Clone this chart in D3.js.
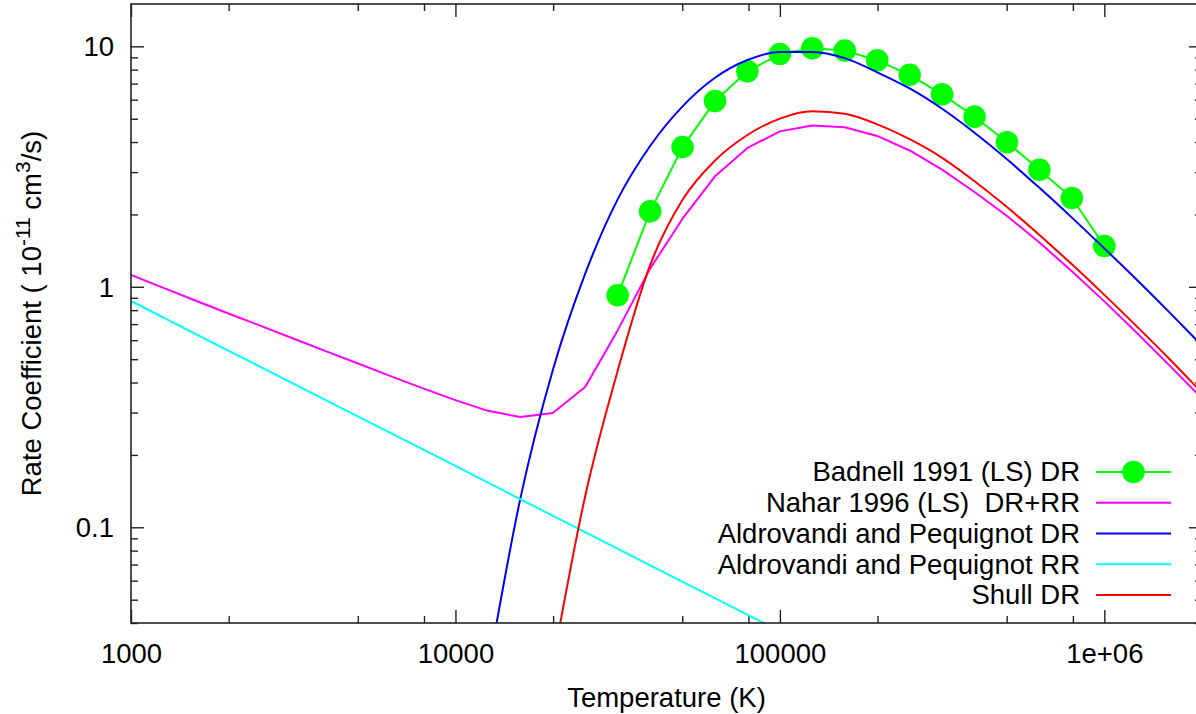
<!DOCTYPE html>
<html>
<head>
<meta charset="utf-8">
<script src="https://cdn.jsdelivr.net/npm/d3@7"></script>
<style>
  html, body { margin: 0; padding: 0; background: #fff; }
  svg { display: block; }
  text { font-family: "Liberation Sans", Arial, Helvetica, sans-serif; fill: #000; }
</style>
</head>
<body>
<svg id="chart" width="1196" height="714"></svg>
<script>
// ---------------- data ----------------
const badnellT = [31623, 39811, 50119, 63096, 79433, 100000, 125893, 158489, 199526, 251189, 316228, 398107, 501187, 630957, 794328, 1000000];
const badnellV = [0.922, 2.06, 3.81, 5.92, 7.87, 9.29, 9.81, 9.60, 8.75, 7.61, 6.32, 5.10, 3.99, 3.07, 2.34, 1.478];

const naharT = [1000, 1259, 1585, 1995, 2512, 3162, 3981, 5012, 6310, 7943, 10000, 12589, 15849, 19953, 25119, 31623, 39811, 50119, 63096, 79433, 100000, 125893, 158489, 199526, 251189, 316228, 398107, 501187, 630957, 794328, 1000000, 1258925, 1584893, 1995262];
const naharV = [1.12, 0.99, 0.875, 0.775, 0.688, 0.61, 0.54, 0.48, 0.425, 0.378, 0.338, 0.305, 0.2875, 0.299, 0.383, 0.659, 1.19, 1.92, 2.88, 3.78, 4.43, 4.69, 4.61, 4.24, 3.69, 3.07, 2.48, 1.97, 1.53, 1.16, 0.87, 0.644, 0.4725, 0.3445];

const apDrT = [12589, 15849, 19953, 25119, 31623, 39811, 50119, 63096, 79433, 100000, 125893, 158489, 199526, 251189, 316228, 398107, 501187, 630957, 794328, 1000000, 1258925, 1584893, 1995262];
const apDrV = [0.025, 0.1316, 0.45, 1.135, 2.31, 3.85, 5.63, 7.40, 8.77, 9.47, 9.48, 8.93, 7.80, 6.68, 5.50, 4.37, 3.39, 2.58, 1.94, 1.445, 1.07, 0.785, 0.571];

const apRrT = [1000, 2000, 5000, 10000, 20000, 50000, 100000];
const apRrV = [0.873, 0.542, 0.289, 0.18, 0.1115, 0.0595, 0.037];

const shullT = [19953, 25119, 31623, 39811, 50119, 63096, 79433, 100000, 125893, 158489, 199526, 251189, 316228, 398107, 501187, 630957, 794328, 1000000, 1258925, 1584893, 1995262];
const shullV = [0.027, 0.135, 0.447, 1.23, 2.30, 3.35, 4.28, 5.005, 5.37, 5.24, 4.74, 4.11, 3.44, 2.75, 2.146, 1.643, 1.24, 0.926, 0.685, 0.502, 0.3635];

const legendLabels = ["Badnell 1991 (LS) DR", "Nahar 1996 (LS)  DR+RR", "Aldrovandi and Pequignot DR", "Aldrovandi and Pequignot RR", "Shull DR"];
const seriesColors = ["#00ff00", "#ff00ff", "#0000ff", "#00ffff", "#ff0000"];

const xMajorTicks = [1000, 10000, 100000, 1000000];
const xTickLabels = ["1000", "10000", "100000", "1e+06"];
const xMinorTicks = [2000, 5000, 8000, 20000, 50000, 80000, 200000, 500000, 800000, 2000000];
const yMajorTicks = [0.1, 1, 10];
const yTickLabels = ["0.1", "1", "10"];
const yMinorTicks = [0.04, 0.05, 0.06, 0.07, 0.08, 0.09, 0.2, 0.3, 0.4, 0.5, 0.6, 0.7, 0.8, 0.9, 2, 3, 4, 5, 6, 7, 8, 9];

// ---------------- layout ----------------
const L = 131, R = 1202, T = 4, B = 623;
const FS = 27.5;
const svg = d3.select("#chart");

const x = d3.scaleLog().domain([1000, 2e6]).range([L, R]);
const y = d3.scaleLog().domain([0.04, 15]).range([B, T]);

svg.append("defs").append("clipPath").attr("id", "plotclip")
  .append("rect").attr("x", L).attr("y", T).attr("width", R - L).attr("height", B - T);

// ---------------- axes ----------------
function styleAxis(g) {
  g.select(".domain").remove();
  g.selectAll(".tick line").attr("stroke", "#222").attr("stroke-width", 1.4);
  g.selectAll("text").style("font-size", FS + "px").attr("fill", "#000");
}

svg.append("g").attr("transform", `translate(0,${B})`)
  .call(d3.axisBottom(x).tickValues(xMajorTicks).tickSize(-13).tickPadding(20)
    .tickFormat((d, i) => xTickLabels[i]))
  .call(styleAxis)
  .selectAll("text").attr("font-family", "Liberation Sans, Arial, sans-serif");
svg.append("g").attr("transform", `translate(0,${B})`)
  .call(d3.axisBottom(x).tickValues(xMinorTicks).tickSize(-7).tickFormat(""))
  .call(styleAxis);

svg.append("g").attr("transform", `translate(0,${T})`)
  .call(d3.axisTop(x).tickValues(xMajorTicks).tickSize(-13).tickFormat(""))
  .call(styleAxis);
svg.append("g").attr("transform", `translate(0,${T})`)
  .call(d3.axisTop(x).tickValues(xMinorTicks).tickSize(-7).tickFormat(""))
  .call(styleAxis);

const leftAx = svg.append("g").attr("transform", `translate(${L},0)`)
  .call(d3.axisLeft(y).tickValues(yMajorTicks).tickSize(-13).tickPadding(17)
    .tickFormat((d, i) => yTickLabels[i]))
  .call(styleAxis);
leftAx.selectAll("text").attr("dy", "0.35em");
svg.append("g").attr("transform", `translate(${L},0)`)
  .call(d3.axisLeft(y).tickValues(yMinorTicks).tickSize(-7).tickFormat(""))
  .call(styleAxis);

svg.append("g").attr("transform", `translate(${R},0)`)
  .call(d3.axisRight(y).tickValues(yMajorTicks).tickSize(-13).tickFormat(""))
  .call(styleAxis);
svg.append("g").attr("transform", `translate(${R},0)`)
  .call(d3.axisRight(y).tickValues(yMinorTicks).tickSize(-7).tickFormat(""))
  .call(styleAxis);

// ---------------- series ----------------
const zip = (ts, vs) => ts.map((t, i) => ({ t: t, v: vs[i] }));
const series = [
  { data: zip(badnellT, badnellV), curve: d3.curveLinear, marker: true },
  { data: zip(naharT, naharV), curve: d3.curveLinear },
  { data: zip(apDrT, apDrV), curve: d3.curveMonotoneX },
  { data: zip(apRrT, apRrV), curve: d3.curveLinear },
  { data: zip(shullT, shullV), curve: d3.curveMonotoneX }
];

const plot = svg.append("g").attr("clip-path", "url(#plotclip)");
series.forEach((s, i) => {
  const line = d3.line().x(d => x(d.t)).y(d => y(d.v)).curve(s.curve);
  plot.append("path").datum(s.data)
    .attr("d", line).attr("fill", "none")
    .attr("stroke", seriesColors[i]).attr("stroke-width", 2)
    .attr("stroke-linejoin", "round");
  if (s.marker) {
    plot.selectAll(null).data(s.data).enter().append("circle")
      .attr("cx", d => x(d.t)).attr("cy", d => y(d.v)).attr("r", 11.3)
      .attr("fill", seriesColors[i]);
  }
});

// ---------------- frame ----------------
svg.append("rect").attr("x", L).attr("y", T).attr("width", R - L).attr("height", B - T)
  .attr("fill", "none").attr("stroke", "#222").attr("stroke-width", 1.6);

// ---------------- legend ----------------
const legY0 = 472, legStep = 30.75, legTextX = 1080, legL1 = 1096, legL2 = 1171;
const leg = svg.append("g");
legendLabels.forEach((lab, i) => {
  const yy = legY0 + i * legStep;
  leg.append("text").attr("x", legTextX).attr("y", yy).attr("dy", "0.345em")
    .attr("text-anchor", "end").style("font-size", FS + "px").style("white-space", "pre")
    .text(lab);
  leg.append("line").attr("x1", legL1).attr("x2", legL2).attr("y1", yy).attr("y2", yy)
    .attr("stroke", seriesColors[i]).attr("stroke-width", 2);
  if (i === 0) {
    leg.append("circle").attr("cx", (legL1 + legL2) / 2).attr("cy", yy).attr("r", 11.3)
      .attr("fill", seriesColors[i]);
  }
});

// ---------------- axis titles ----------------
svg.append("text").attr("x", (L + R) / 2).attr("y", 707).attr("text-anchor", "middle")
  .style("font-size", FS + "px").text("Temperature (K)");

const yt = svg.append("text").attr("transform", `translate(41,${(T + B) / 2}) rotate(-90)`)
  .attr("text-anchor", "middle").style("font-size", FS + "px").style("white-space", "pre");
yt.append("tspan").text("Rate Coefficient ( 10");
yt.append("tspan").attr("dy", -11).style("font-size", "21px").text("-11");
yt.append("tspan").attr("dy", 11).text(" cm");
yt.append("tspan").attr("dy", -11).style("font-size", "21px").text("3");
yt.append("tspan").attr("dy", 11).text("/s)");
</script>
</body>
</html>
